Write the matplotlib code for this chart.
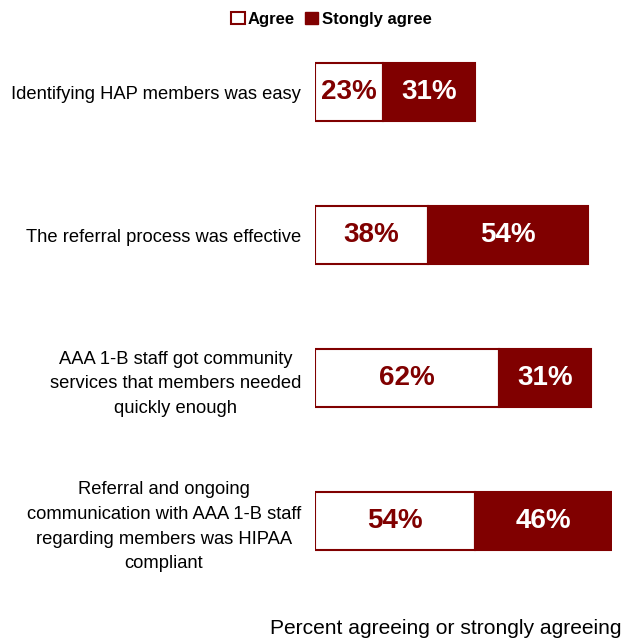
import matplotlib.pyplot as plt
from matplotlib.patches import Patch

plt.rcParams['font.family'] = ['Liberation Sans', 'DejaVu Sans']

# survey statements, top to bottom
labels = [
    'Identifying HAP members was easy',
    'The referral process was effective',
    'AAA 1-B staff got community\nservices that members needed\nquickly enough',
    'Referral and ongoing\ncommunication with AAA 1-B staff\nregarding members was HIPAA\ncompliant',
]
agree = [23, 38, 62, 54]
strongly = [31, 54, 31, 46]

red = '#800000'

fig = plt.figure(figsize=(6.35, 6.41), dpi=100)
ax = fig.add_axes([0.496, 0.0757, 0.468, 0.892])

y = list(range(len(labels)))
ax.barh(y, agree, height=0.41, color='white', edgecolor=red, linewidth=1.5)
ax.barh(y, strongly, left=agree, height=0.41, color=red, edgecolor=red, linewidth=1.5)

for i in y:
    ax.text(agree[i] / 2, i, f'{agree[i]}%', ha='center', va='center',
            color=red, fontsize=20, fontweight='bold')
    ax.text(agree[i] + strongly[i] / 2, i, f'{strongly[i]}%', ha='center', va='center',
            color='white', fontsize=20, fontweight='bold')

ax.set_xlim(0, 100)
ax.set_ylim(3.5, -0.5)
ax.set_yticks(y)
ax.set_yticklabels(labels, fontsize=13.2, multialignment='center', linespacing=1.58)
ax.tick_params(axis='y', length=0, pad=10)
ax.set_xticks([])
for s in ax.spines.values():
    s.set_visible(False)

handles = [Patch(facecolor='white', edgecolor=red, linewidth=1.5, label='Agree'),
           Patch(facecolor=red, edgecolor=red, label='Stongly agree')]
fig.legend(handles=handles, loc='center', bbox_to_anchor=(0.522, 0.97), ncol=2,
           frameon=False, handlelength=0.8, handleheight=0.8, handletextpad=0.2,
           columnspacing=0.6, prop={'weight': 'bold', 'size': 12})

fig.text(622 / 635, 1 - 628 / 641, 'Percent agreeing or strongly agreeing',
         ha='right', va='center', fontsize=15.1)

fig.savefig('out.png')
